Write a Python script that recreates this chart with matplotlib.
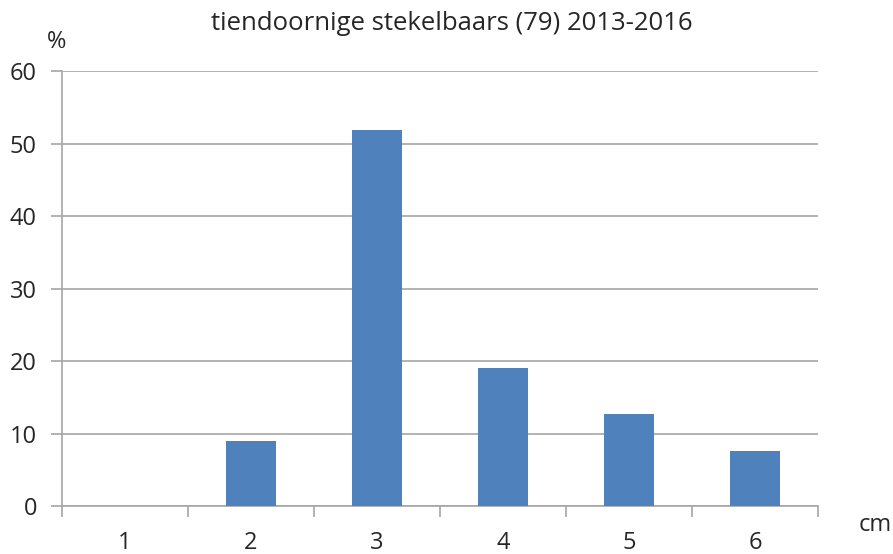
import matplotlib.pyplot as plt

plt.rcParams['font.family'] = ['Open Sans', 'DejaVu Sans']

# lengte (cm) en percentage van 79 vissen
lengths = ['1', '2', '3', '4', '5', '6']
percent = [0.0, 8.9, 51.9, 19.0, 12.7, 7.6]

bar_color = '#4F81BD'
grid_color = '#A6A6A6'
text_color = '#262626'

fig = plt.figure(figsize=(8.93, 5.54), dpi=100)
ax = fig.add_axes([0.0694, 0.0866, 0.8466, 0.7852])

x = range(len(lengths))
ax.bar(x, percent, width=0.4, color=bar_color, zorder=3)

ax.set_xlim(-0.5, len(lengths) - 0.5)
ax.set_ylim(0, 60)
ax.set_yticks(range(0, 61, 10))
ax.set_xticks(list(x))
ax.set_xticklabels(lengths)
ax.set_xticks([i + 0.5 for i in range(-1, len(lengths))], minor=True)

ax.grid(axis='y', color=grid_color, linewidth=1.2, zorder=0)
for side in ['top', 'right']:
    ax.spines[side].set_visible(False)
for side in ['left', 'bottom']:
    ax.spines[side].set_color(grid_color)
    ax.spines[side].set_linewidth(1.2)

ax.tick_params(axis='y', length=8, width=1.2, color=grid_color, labelsize=17,
               labelcolor=text_color, pad=10)
ax.tick_params(axis='x', which='major', length=0, labelsize=17,
               labelcolor=text_color, pad=18)
ax.tick_params(axis='x', which='minor', length=8, width=1.2, color=grid_color)

fig.text(0.506, 0.958, 'tiendoornige stekelbaars (79) 2013-2016', ha='center',
         va='center', fontsize=18.5, color=text_color)
fig.text(0.063, 0.924, '%', ha='center', va='center', fontsize=17, color=text_color)
fig.text(0.98, 0.052, 'cm', ha='center', va='center', fontsize=17, color=text_color)

fig.savefig('out.png', dpi=100)
